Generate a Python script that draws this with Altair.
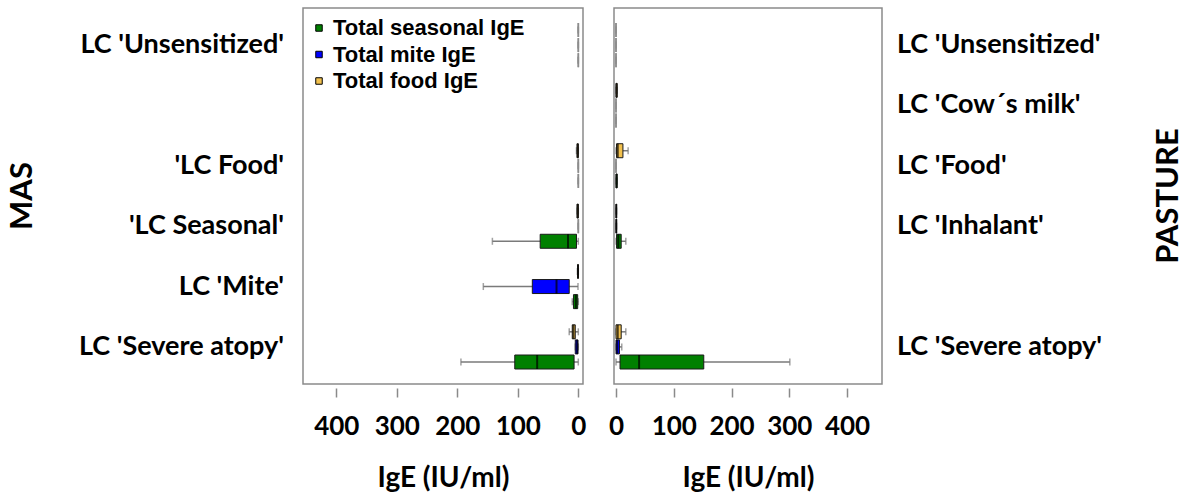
import altair as alt
import pandas as pd

# ---- group labels (slot index, top to bottom) ----
mas_label_slots = [0, 2, 3, 4, 5]
mas_label_text = ["LC 'Unsensitized'", "'LC Food'", "'LC Seasonal'", "LC 'Mite'", "LC 'Severe atopy'"]
pasture_label_slots = [0, 1, 2, 3, 5]
pasture_label_text = ["LC 'Unsensitized'", "LC 'Cow´s milk'", "LC 'Food'", "LC 'Inhalant'", "LC 'Severe atopy'"]

series_names = ["Total seasonal IgE", "Total mite IgE", "Total food IgE"]
series_colors = ["#008000", "#0000FF", "#F2C14E"]
# within a group: food on top, mite in the middle, seasonal at the bottom
kind_offset = {"Total food IgE": 0, "Total mite IgE": 1, "Total seasonal IgE": 2}

# ---- box statistics (IgE, IU/ml) ----
mas_slot = [0, 0, 0, 2, 2, 2, 3, 3, 3, 4, 4, 4, 5, 5, 5]
mas_kind = ["Total food IgE", "Total mite IgE", "Total seasonal IgE"] * 5
mas_lo = [0, 0, 0, 0, 0, 0, 0, 0, 0, 0, 0.5, 0, 0, 0, 0]
mas_q1 = [0, 0, 0, 0, 0, 0, 0, 0, 3, 0, 15, 1, 5, 0.5, 7]
mas_med = [0, 0, 0, 1, 0, 0, 1, 0, 17, 0.5, 36, 4, 8, 2, 68]
mas_q3 = [0, 0, 0, 2, 0, 0, 2, 0, 63, 1, 76, 8, 10, 5, 105]
mas_hi = [0, 0, 0, 3, 0, 0, 2, 0, 142, 1.5, 157, 10, 15, 5, 194]

pas_slot = [0, 0, 0, 1, 1, 1, 2, 2, 2, 3, 3, 3, 5, 5, 5]
pas_kind = ["Total food IgE", "Total mite IgE", "Total seasonal IgE"] * 5
pas_lo = [0, 0, 0, 0, 0, 0, 0, 0, 0, 0, 0, 0, 0, 0, 0]
pas_q1 = [0, 0, 0, 0, 0, 0, 1, 0, 0, 0, 0, 1, 0, 0, 7]
pas_med = [0, 0, 0, 1, 0, 0, 3, 0, 1, 0.5, 0.5, 4, 3, 2, 40]
pas_q3 = [0, 0, 0, 2, 0, 0, 12, 0, 2, 1, 1, 9, 9, 6, 152]
pas_hi = [0, 0, 0, 2, 0, 0, 21, 0, 2, 1, 1, 17, 17, 10, 301]

tick_values = [0, 100, 200, 300, 400]

# ---- layout (pixels) ----
W, H, PAD_BOTTOM = 1186, 384, 118
L_X0, L_X1 = 303, 583      # MAS panel frame
R_X0, R_X1 = 614, 882      # PASTURE panel frame
Y0, Y1 = 8, 384
L_ZERO, L_PX = 578.3, 0.605   # px of 0, px per IU/ml (axis runs right-to-left)
R_ZERO, R_PX = 616.0, 0.5775

FONT = "Lato"
GRID_GREY = "#8a8a8a"
WHISKER_GREY = "#7a7a7a"
BOX_H = 14

y_scale = alt.Scale(domain=[1, 23], range=[30, 362], nice=False, zero=False, padding=0)
color_scale = alt.Scale(domain=series_names, range=series_colors)

# boxes whose quartiles coincide collapse to a thin grey line
flat = "datum.q1 == datum.q3"


def box_frame(slot, kind, lo, q1, med, q3, hi):
    df = pd.DataFrame({"slot": slot, "kind": kind, "lo": lo, "q1": q1,
                       "med": med, "q3": q3, "hi": hi})
    df["pos"] = df["slot"] * 4 + df["kind"].map(kind_offset) + 1
    return df


def label_frame(slots, texts):
    return pd.DataFrame({"pos": [s * 4 + 2 for s in slots], "text": texts})


legend = alt.Legend(
    orient="none", legendX=308, legendY=17, title=None,
    symbolType="square", symbolSize=42, symbolStrokeColor="black",
    symbolStrokeWidth=1, symbolOpacity=1,
    labelFont="Liberation Sans", labelFontWeight="bold", labelFontSize=22,
    labelColor="black", labelOffset=3, labelLimit=400, rowPadding=4.5, padding=0,
)


def panel(df, labels, x_scale, x0, x1, label_x, label_align):
    axis = alt.Axis(
        values=tick_values, format="d", domain=False, grid=False,
        orient="bottom", offset=4, tickColor=GRID_GREY, tickSize=9, tickWidth=1.5,
        labelFont=FONT, labelFontWeight="bold", labelFontSize=26, labelColor="black",
        labelPadding=16, labelFlush=False, labelOverlap=False,
        title="IgE (IU/ml)", titleFont=FONT, titleFontWeight="bold",
        titleFontSize=28, titleColor="black", titlePadding=25,
    )

    def xq(field):
        return alt.X(f"{field}:Q", scale=x_scale, axis=axis, title="IgE (IU/ml)")

    base = alt.Chart(df)
    y = alt.Y("pos:Q", scale=y_scale, axis=None)

    frame = alt.Chart(pd.DataFrame({"p": [0]})).mark_rect(
        fill=None, stroke=GRID_GREY, strokeWidth=1.5
    ).encode(x=alt.value(x0), x2=alt.value(x1), y=alt.value(Y0), y2=alt.value(Y1))

    whisker = base.mark_rule(color=WHISKER_GREY, strokeWidth=1.5).encode(
        x=xq("lo"), x2="hi:Q", y=y)
    cap_lo = base.mark_tick(orient="vertical", size=7, thickness=1.5, color=WHISKER_GREY).encode(
        x=xq("lo"), y=y)
    cap_hi = base.mark_tick(orient="vertical", size=7, thickness=1.5, color=WHISKER_GREY).encode(
        x=xq("hi"), y=y)
    box = base.mark_bar(size=BOX_H, strokeWidth=1, opacity=1).encode(
        x=xq("q1"), x2="q3:Q", y=y,
        color=alt.Color("kind:N", scale=color_scale, legend=legend),
        stroke=alt.condition(flat, alt.value("#8c8c8c"), alt.value("#1a1a1a")))
    median = base.mark_tick(orient="vertical", size=BOX_H, thickness=2).encode(
        x=xq("med"), y=y,
        color=alt.condition(flat, alt.value("#8c8c8c"), alt.value("black")))

    text = alt.Chart(labels).mark_text(
        align=label_align, baseline="middle", font=FONT, fontWeight="bold",
        fontSize=27, color="black"
    ).encode(x=alt.value(label_x), y=y, text="text:N")

    return alt.layer(frame, whisker, cap_lo, cap_hi, box, median, text)


mas_df = box_frame(mas_slot, mas_kind, mas_lo, mas_q1, mas_med, mas_q3, mas_hi)
pas_df = box_frame(pas_slot, pas_kind, pas_lo, pas_q1, pas_med, pas_q3, pas_hi)

left_scale = alt.Scale(
    domain=[(L_ZERO - L_X1) / L_PX, (L_ZERO - L_X0) / L_PX],
    range=[L_X1, L_X0], nice=False, zero=False, padding=0)
right_scale = alt.Scale(
    domain=[(R_X0 - R_ZERO) / R_PX, (R_X1 - R_ZERO) / R_PX],
    range=[R_X0, R_X1], nice=False, zero=False, padding=0)

left = panel(mas_df, label_frame(mas_label_slots, mas_label_text),
             left_scale, L_X0, L_X1, 284, "right")
right = panel(pas_df, label_frame(pasture_label_slots, pasture_label_text),
              right_scale, R_X0, R_X1, 897, "left")

side_titles = alt.Chart(pd.DataFrame({
    "text": ["MAS", "PASTURE"], "px": [23, 1169]
})).mark_text(
    angle=270, align="center", baseline="middle", font=FONT, fontWeight="bold",
    fontSize=31, color="black"
).encode(x=alt.X("px:Q", scale=alt.Scale(domain=[0, W], range=[0, W]), axis=None),
         y=alt.value((Y0 + Y1) / 2), text="text:N")

chart = alt.layer(left, right, side_titles).resolve_scale(
    x="independent"
).properties(
    width=W, height=H, autosize="none", background="white",
    padding={"left": 0, "top": 0, "right": 0, "bottom": PAD_BOTTOM},
).configure_view(stroke=None)

chart.save("out.html", embed_options={"renderer": "svg", "actions": False})
